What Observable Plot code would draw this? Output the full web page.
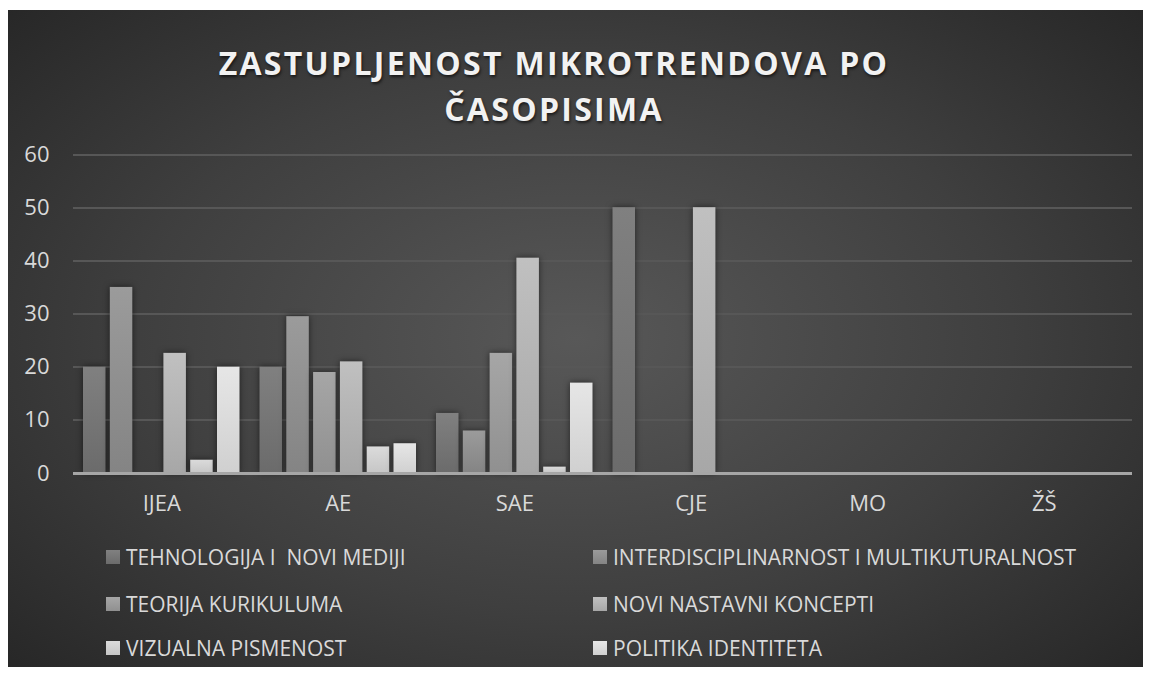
<!DOCTYPE html>
<html>
<head>
<meta charset="utf-8">
<script src="https://cdn.jsdelivr.net/npm/d3@7"></script>
<script src="https://cdn.jsdelivr.net/npm/@observablehq/plot@0.6"></script>
<style>
  html, body { margin: 0; padding: 0; background: #ffffff; }
  body { width: 1151px; height: 677px; position: relative; overflow: hidden; }
  #frame {
    position: absolute; left: 8px; top: 10px; width: 1135px; height: 657px;
    background: radial-gradient(ellipse 70% 75% at 50% 50%, #585858 0%, #3f3f3f 55%, #262626 100%);
    font-family: "Open Sans", sans-serif;
  }
  #title {
    position: absolute; left: 0; width: 1092px; top: 30px; text-align: center;
    color: #f2f2f2; font-family: "Open Sans", sans-serif; font-weight: 700; font-size: 32px;
    letter-spacing: 2.3px; line-height: 46px; text-shadow: 1px 2px 3px rgba(0,0,0,0.6);
  }
  #chart { position: absolute; left: 0; top: 120px; }
  #chart svg text { font-family: "Open Sans", sans-serif; }
  #legend { position: absolute; left: 0; top: 0; width: 1135px; height: 657px; pointer-events: none; }
  .item { position: absolute; display: flex; align-items: center; color: #d9d9d9; font-size: 21px; white-space: pre; }
  .sw { width: 14px; height: 14px; margin-right: 6px; }
  .bars { filter: drop-shadow(0px 0px 3px rgba(0,0,0,0.55)); }
</style>
</head>
<body>
<div id="frame">
  <div id="title">ZASTUPLJENOST MIKROTRENDOVA PO<br>ČASOPISIMA</div>
  <div id="chart"></div>
  <div id="legend"></div>
</div>
<script>
const journals = ["IJEA", "AE", "SAE", "CJE", "MO", "ŽŠ"];
const seriesNames = [
  "TEHNOLOGIJA I  NOVI MEDIJI",
  "INTERDISCIPLINARNOST I MULTIKUTURALNOST",
  "TEORIJA KURIKULUMA",
  "NOVI NASTAVNI KONCEPTI",
  "VIZUALNA PISMENOST",
  "POLITIKA IDENTITETA"
];
const tehnologija = [20, 20, 11.3, 50, 0, 0];
const interdisciplinarnost = [35, 29.5, 8, 0, 0, 0];
const teorija = [0, 19, 22.6, 0, 0, 0];
const noviKoncepti = [22.6, 21, 40.5, 50, 0, 0];
const vizualna = [2.5, 5, 1.2, 0, 0, 0];
const politika = [20, 5.6, 17, 0, 0, 0];
const yTicks = [0, 10, 20, 30, 40, 50, 60];

const seriesValues = [tehnologija, interdisciplinarnost, teorija, noviKoncepti, vizualna, politika];
const gradTop = ["#808080", "#9b9b9b", "#a6a6a6", "#c0c0c0", "#dbdbdb", "#e6e6e6"];
const gradBot = ["#6b6b6b", "#848484", "#909090", "#a7a7a7", "#c6c6c6", "#d0d0d0"];

const data = [];
seriesNames.forEach((s, i) => journals.forEach((j, k) => data.push({journal: j, series: s, idx: i, value: seriesValues[i][k]})));

const W = 1135, ML = 65, MR = 11, MT = 24, MB = 50, H = 393;

const marks = [
  Plot.ruleY(yTicks.filter(d => d > 0), {stroke: "#575757", strokeWidth: 2}),
];
seriesNames.forEach((s, i) => {
  marks.push(Plot.barY(data.filter(d => d.idx === i && d.value > 0), {
    fx: "journal", x: "series", y: "value", fill: `url(#g${i})`, className: "bars"
  }));
});
marks.push(Plot.ruleY(journals, {fx: d => d, y: 0, stroke: "#a6a6a6", strokeWidth: 3}));
marks.push(Plot.axisY(yTicks, {tickSize: 0, tickPadding: 24, fontSize: 22, fill: "#d9d9d9", label: null}));
marks.push(Plot.axisFx({anchor: "bottom", tickSize: 0, tickPadding: 22, fontSize: 22, fill: "#d9d9d9", label: null}));

const chart = Plot.plot({
  width: W, height: H,
  marginLeft: ML, marginRight: MR, marginTop: MT, marginBottom: MB,
  style: {background: "transparent", color: "#d9d9d9", fontFamily: '"Open Sans", sans-serif', fontSize: "22px", overflow: "visible"},
  fx: {domain: journals, padding: 0, round: false, label: null},
  x: {domain: seriesNames, axis: null, round: false, paddingInner: 0.16, paddingOuter: 0.373},
  y: {domain: [0, 60], label: null},
  marks
});

const svg = d3.select(chart.tagName.toLowerCase() === "svg" ? chart : chart.querySelector("svg"));
svg.selectAll("line").attr("shape-rendering", "crispEdges");
const defs = svg.insert("defs", ":first-child");
gradTop.forEach((c, i) => {
  const g = defs.append("linearGradient").attr("id", `g${i}`).attr("x1", 0).attr("y1", 0).attr("x2", 0).attr("y2", 1);
  g.append("stop").attr("offset", "0%").attr("stop-color", c);
  g.append("stop").attr("offset", "100%").attr("stop-color", gradBot[i]);
});
document.getElementById("chart").appendChild(chart);

// Legend
const legend = document.getElementById("legend");
const rowsY = [547, 594, 638];
const colsX = [98, 585];
seriesNames.forEach((s, i) => {
  const el = document.createElement("div");
  el.className = "item";
  el.style.left = colsX[i % 2] + "px";
  el.style.top = (rowsY[Math.floor(i / 2)] - 14) + "px";
  el.style.height = "28px";
  el.innerHTML = `<span class="sw" style="background: linear-gradient(${gradTop[i]}, ${gradBot[i]})"></span><span>${s}</span>`;
  legend.appendChild(el);
});
</script>
</body>
</html>
